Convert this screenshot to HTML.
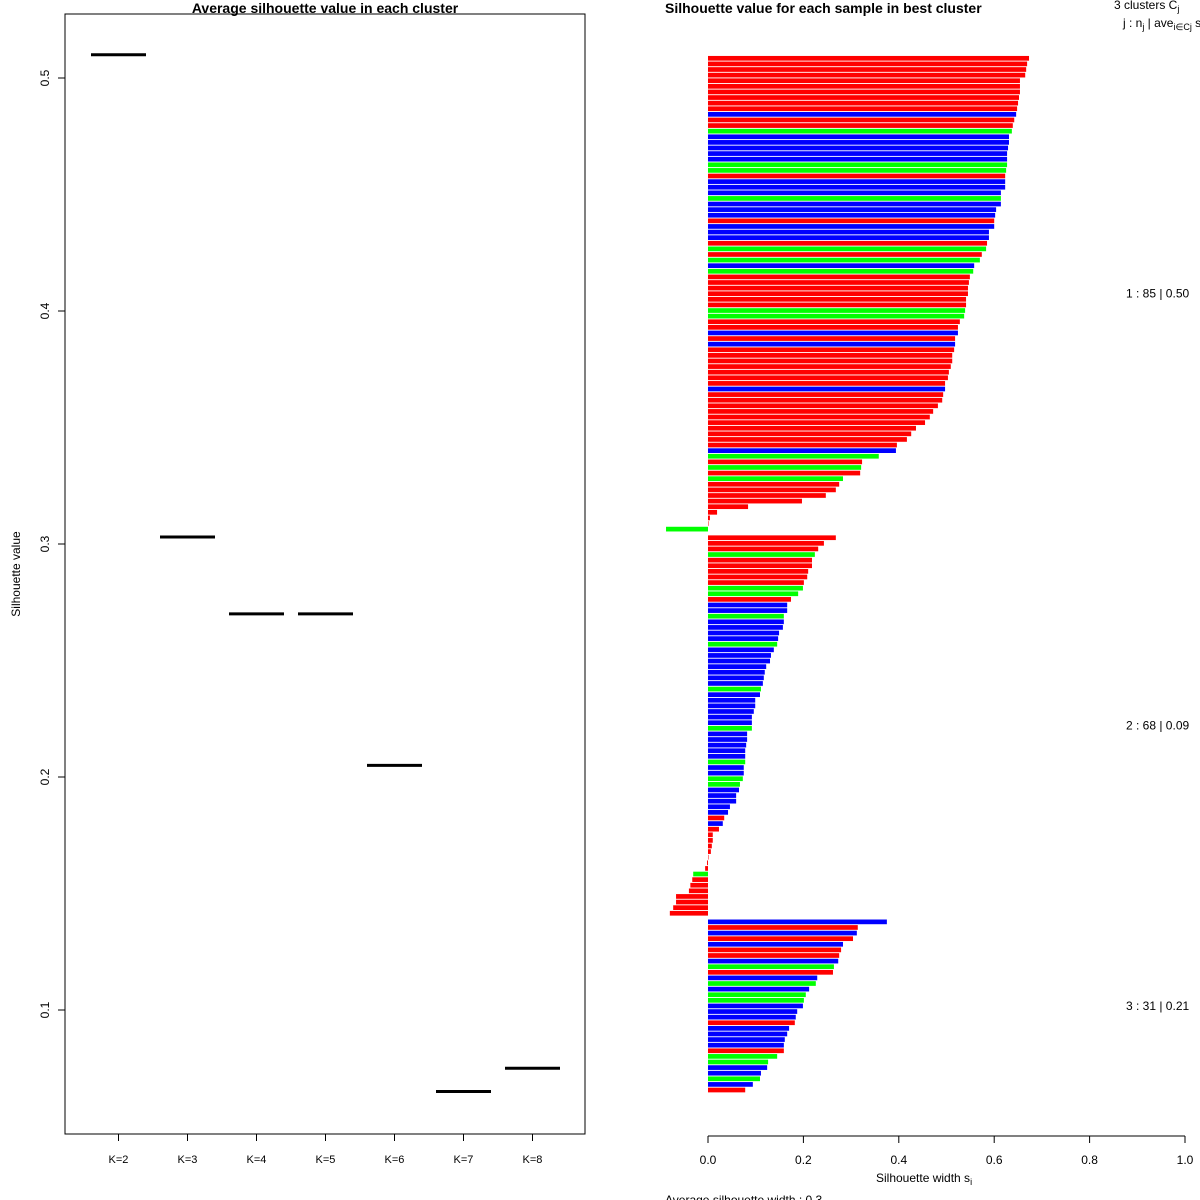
<!DOCTYPE html>
<html><head><meta charset="utf-8"><style>
html,body{margin:0;padding:0;background:#fff}
svg{display:block;font-family:"Liberation Sans",Arial,sans-serif}
</style></head><body>
<svg id="chart" width="1200" height="1200" viewBox="0 0 1200 1200" xmlns="http://www.w3.org/2000/svg">
<rect x="0" y="0" width="1200" height="1200" fill="#fff"/>
<g id="left">
<rect x="65" y="14" width="520" height="1120" fill="none" stroke="#000" stroke-width="1"/>
<text x="325" y="13" text-anchor="middle" font-size="14" font-weight="bold">Average silhouette value in each cluster</text>
<text x="0" y="0" transform="translate(20,574) rotate(-90)" text-anchor="middle" font-size="12">Silhouette value</text>
</g>
<g id="right">
<text x="665" y="13" font-size="14" font-weight="bold">Silhouette value for each sample in best cluster</text>
<text x="1114" y="9" font-size="12">3  clusters  C<tspan font-size="9" dy="3">j</tspan></text>
<text x="1123" y="27" font-size="12">j :  n<tspan font-size="9" dy="3">j</tspan><tspan dy="-3"> | ave</tspan><tspan font-size="9" dy="3">i∈Cj</tspan><tspan dy="-3">  s</tspan><tspan font-size="9" dy="3">i</tspan></text>
<text x="876" y="1182" font-size="12">Silhouette width s<tspan font-size="9" dy="3">i</tspan></text>
<text x="665" y="1204" font-size="12">Average silhouette width :  0.3</text>
</g>
<g id="marks"></g>
</svg>
<script>
// Left chart data
const kLabels = ["K=2","K=3","K=4","K=5","K=6","K=7","K=8"];
const kValues = [0.51,0.303,0.27,0.27,0.205,0.065,0.075];
const yTicks = [0.1,0.2,0.3,0.4,0.5];
// Right chart data
const clusterSizes = [85,68,31];
const clusterLabels = ["1 :  85  |  0.50","2 :  68  |  0.09","3 :  31  |  0.21"];
const xTicks = [0,0.2,0.4,0.6,0.8,1.0];
const sampleValues = [
0.673,0.669,0.667,0.665,0.654,0.654,0.654,0.652,0.650,0.648,0.646,0.642,0.639,0.637,0.631,0.631,0.629,0.627,0.627,0.627,0.625,0.623,0.623,0.623,0.614,0.614,0.614,0.604,0.602,0.600,0.600,0.589,0.589,0.585,0.583,0.574,0.570,0.558,0.556,0.549,0.547,0.545,0.545,0.541,0.541,0.539,0.537,0.528,0.524,0.524,0.518,0.518,0.516,0.512,0.512,0.509,0.505,0.503,0.497,0.497,0.493,0.491,0.482,0.472,0.465,0.455,0.436,0.426,0.417,0.396,0.394,0.358,0.323,0.321,0.319,0.283,0.275,0.268,0.247,0.197,0.084,0.019,0.004,0.001,-0.088,
0.268,0.243,0.231,0.224,0.218,0.218,0.210,0.208,0.201,0.199,0.189,0.174,0.166,0.166,0.159,0.159,0.157,0.149,0.147,0.145,0.138,0.132,0.130,0.122,0.119,0.117,0.115,0.111,0.109,0.099,0.099,0.096,0.092,0.092,0.092,0.082,0.082,0.080,0.078,0.078,0.078,0.075,0.075,0.073,0.067,0.065,0.059,0.059,0.046,0.042,0.034,0.031,0.023,0.010,0.010,0.008,0.006,0.001,-0.002,-0.006,-0.031,-0.033,-0.037,-0.040,-0.067,-0.067,-0.073,-0.080,
0.375,0.314,0.312,0.304,0.283,0.279,0.275,0.273,0.264,0.262,0.229,0.226,0.212,0.205,0.201,0.199,0.187,0.184,0.182,0.170,0.166,0.161,0.159,0.159,0.145,0.126,0.124,0.111,0.109,0.094,0.078];
const groups1 = "RRRRRRRRRR"+"BRRGBBBBBG"+"GRBBBGBBBR"+"BBBRGRGBGR"+"RRRRRGGRRB"+"RBRRRRRRRB"+"RRRRRRRRRR"+"BGRGRGRRRR"+"RRRRG";
const groups2 = "RRRGRRRRRG"+"GRBBGBBBBG"+"BBBBBBBGBB"+"BBBBGBBBBB"+"GBBGGBBBBB"+"RBRRRRRRRR"+"GRRRRRRR";
const groups3 = "BRBRBRRBGR"+"BGBGGBBBRB"+"BBBRGGBBGB"+"R";
const sampleGroups = (groups1+groups2+groups3).split("");
const colorMap = {R:"#ff0000",G:"#00ff00",B:"#0000ff"};

const NS="http://www.w3.org/2000/svg";
const marks=document.getElementById('marks');
function mk(tag,attrs,parent){const e=document.createElementNS(NS,tag);for(const k in attrs)e.setAttribute(k,attrs[k]);(parent||marks).appendChild(e);return e;}

// Left axes
const ly = v => 78 + (0.5 - v) * 2330;
const lx = i => 118.5 + i * 69;
yTicks.forEach(t=>{
  const tk=mk('line',{x1:58,x2:65,y1:ly(t),y2:ly(t),stroke:'#000'});
  
  
  const tx=mk('text',{x:0,y:0,transform:`translate(49,${ly(t)}) rotate(-90)`,'text-anchor':'middle','font-size':12});
  tx.textContent=String(t);
  
  
});
kLabels.forEach((l,i)=>{
  const tk=mk('line',{x1:lx(i),x2:lx(i),y1:1134,y2:1141,stroke:'#000'});
  
  
  const tx=mk('text',{x:lx(i),y:1163,'text-anchor':'middle','font-size':11});
  tx.textContent=l;
  
  
  const seg=mk('line',{x1:lx(i)-27.5,x2:lx(i)+27.5,y1:ly(kValues[i]),y2:ly(kValues[i]),stroke:'#000','stroke-width':3});
  
  
});

// Right axes
const rx = v => 708 + v * 477;
const pitch = 5.605, gapExtra = 3.0, y0 = 58.3, barH = 4.7;
const axl=mk('line',{x1:rx(0),x2:rx(1),y1:1136,y2:1136,stroke:'#000'});


xTicks.forEach(t=>{
  const tk=mk('line',{x1:rx(t),x2:rx(t),y1:1136,y2:1143,stroke:'#000'});
  
  
  const tx=mk('text',{x:rx(t),y:1164,'text-anchor':'middle','font-size':12});
  tx.textContent=t.toFixed(1);
  
  
});
let idx=0;
clusterSizes.forEach((n,c)=>{
  const start=idx;
  for(let j=0;j<n;j++,idx++){
    const v=sampleValues[idx];
    const cy=y0+idx*pitch+c*gapExtra;
    const r=mk('rect',{x:Math.min(rx(0),rx(v)),y:cy-barH/2,width:Math.max(Math.abs(rx(v)-rx(0)),0.5),height:barH,fill:colorMap[sampleGroups[idx]]||'#ff0000'});
    
    
  }
  const midY=y0+((start+idx-1)/2)*pitch+c*gapExtra;
  const lab=mk('text',{x:1126,y:midY+4,'font-size':12});
  lab.textContent=clusterLabels[c];
  
  
});
</script>
</body></html>
